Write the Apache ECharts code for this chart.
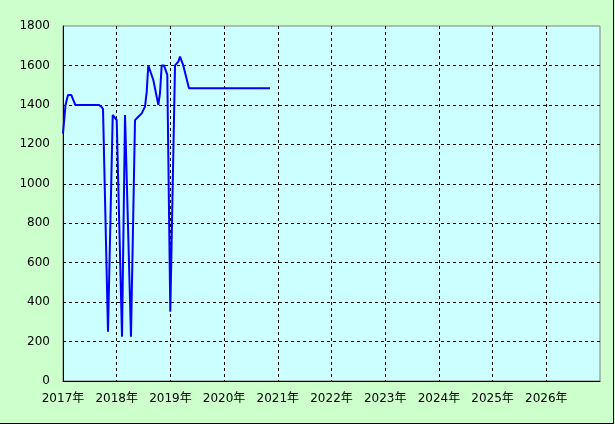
<!DOCTYPE html>
<html>
<head>
<meta charset="utf-8">
<script src="https://cdn.jsdelivr.net/npm/echarts@6/dist/echarts.min.js"></script>
<style>
html,body{margin:0;padding:0;background:#ccffcc;}
#c{width:615px;height:424px;}
</style>
</head>
<body>
<div id="c"></div>
<script>
// decimal years (x) and values (y)
const years = [2017.0, 2017.047, 2017.093, 2017.155, 2017.229, 2017.665, 2017.713, 2017.745, 2017.764,
  2017.838, 2017.926, 2018.0, 2018.099, 2018.155, 2018.186, 2018.266, 2018.341, 2018.402, 2018.466,
  2018.527, 2018.559, 2018.588, 2018.620, 2018.682, 2018.775, 2018.806, 2018.838, 2018.881, 2018.942,
  2018.998, 2019.086, 2019.147, 2019.179, 2019.240, 2019.346, 2020.855];
const values = [1255, 1400, 1450, 1450, 1400, 1400, 1391, 1380, 1374,
  250, 1349, 1323, 225, 1349, 1340, 225, 1323, 1340, 1357,
  1391, 1467, 1600, 1600, 1526, 1400, 1459, 1600, 1600, 1552,
  351, 1600, 1619, 1645, 1600, 1484, 1484];
const yTicks = {min: 0, max: 1800, interval: 200};
const xTicks = {min: 2017, max: 2027, interval: 1};

const chart = echarts.init(document.getElementById('c'), null, {renderer: 'canvas'});
const labelFont = 'DejaVu Sans, "Noto Sans CJK JP", sans-serif';
chart.setOption({
  backgroundColor: '#ccffcc',
  animation: false,
  grid: {left: 63, top: 26, right: 15, bottom: 43, show: true, backgroundColor: '#ccffff',
         borderColor: '#808080', borderWidth: 1},
  xAxis: {
    type: 'value', min: xTicks.min, max: xTicks.max, interval: xTicks.interval,
    axisLine: {show: true, onZero: false, lineStyle: {color: '#000', width: 1}},
    axisTick: {show: false},
    axisLabel: {color: '#000', fontSize: 12, fontFamily: labelFont, margin: 12,
      showMaxLabel: false, formatter: v => String(v) + '年'},
    splitLine: {show: true, showMinLine: false, showMaxLine: false,
      lineStyle: {color: '#000', type: [3, 3], width: 1}}
  },
  yAxis: {
    type: 'value', min: yTicks.min, max: yTicks.max, interval: yTicks.interval,
    axisLine: {show: true, lineStyle: {color: '#000', width: 1}},
    axisTick: {show: false},
    axisLabel: {color: '#000', fontSize: 12, fontFamily: labelFont, margin: 13,
      formatter: v => String(v)},
    splitLine: {show: true, showMinLine: false, showMaxLine: false,
      lineStyle: {color: '#000', type: [3, 3], width: 1}}
  },
  graphic: [
    {type: 'line', shape: {x1: 613.5, y1: 0, x2: 613.5, y2: 424}, style: {stroke: '#000', lineWidth: 1}, z: 100},
    {type: 'line', shape: {x1: 0, y1: 423.5, x2: 614, y2: 423.5}, style: {stroke: '#000', lineWidth: 1}, z: 100}
  ],
  series: [{
    type: 'line',
    data: years.map((y, i) => [y, values[i]]),
    showSymbol: false,
    symbol: 'none',
    lineStyle: {color: '#0000ff', width: 2},
    itemStyle: {color: '#0000ff'}
  }]
});
</script>
</body>
</html>
